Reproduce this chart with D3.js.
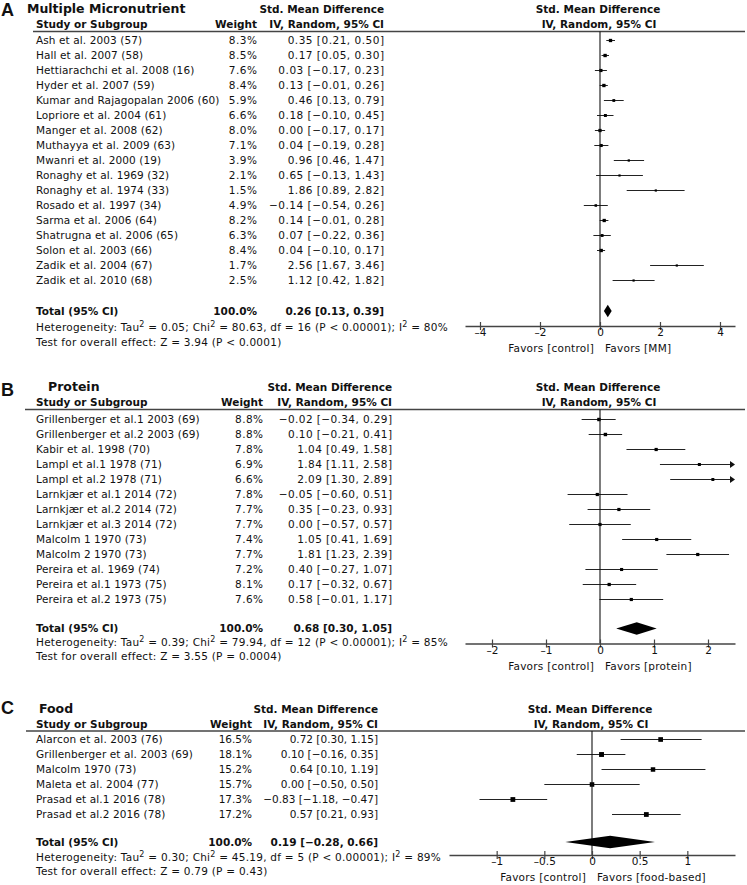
<!DOCTYPE html>
<html>
<head>
<meta charset="utf-8">
<script src="https://cdn.jsdelivr.net/npm/d3@7"></script>
<style>
  html, body { margin: 0; padding: 0; background: #fff; }
  svg { display: block; }
  text { font-family: "DejaVu Sans", Verdana, sans-serif; fill: #111; }
</style>
</head>
<body>
<svg id="chart" width="747" height="885"></svg>
<script>
// ---------- Panel A: Multiple Micronutrient ----------
const mmStudies = ["Ash et al. 2003 (57)", "Hall et al. 2007 (58)", "Hettiarachchi et al. 2008 (16)", "Hyder et al. 2007 (59)",
  "Kumar and Rajagopalan 2006 (60)", "Lopriore et al. 2004 (61)", "Manger et al. 2008 (62)", "Muthayya et al. 2009 (63)",
  "Mwanri et al. 2000 (19)", "Ronaghy et al. 1969 (32)", "Ronaghy et al. 1974 (33)", "Rosado et al. 1997 (34)",
  "Sarma et al. 2006 (64)", "Shatrugna et al. 2006 (65)", "Solon et al. 2003 (66)", "Zadik et al. 2004 (67)", "Zadik et al. 2010 (68)"];
const mmWeight = [8.3, 8.5, 7.6, 8.4, 5.9, 6.6, 8.0, 7.1, 3.9, 2.1, 1.5, 4.9, 8.2, 6.3, 8.4, 1.7, 2.5];
const mmSmd = [0.35, 0.17, 0.03, 0.13, 0.46, 0.18, 0.00, 0.04, 0.96, 0.65, 1.86, -0.14, 0.14, 0.07, 0.04, 2.56, 1.12];
const mmLow = [0.21, 0.05, -0.17, -0.01, 0.13, -0.10, -0.17, -0.19, 0.46, -0.13, 0.89, -0.54, -0.01, -0.22, -0.10, 1.67, 0.42];
const mmHigh = [0.50, 0.30, 0.23, 0.26, 0.79, 0.45, 0.17, 0.28, 1.47, 1.43, 2.82, 0.26, 0.28, 0.36, 0.17, 3.46, 1.82];
const mmTotal = [0.26, 0.13, 0.39];
const mmTicks = [-4, -2, 0, 2, 4];
const mmDomain = [-4.5, 4.5];

// ---------- Panel B: Protein ----------
const prStudies = ["Grillenberger et al.1 2003 (69)", "Grillenberger et al.2 2003 (69)", "Kabir et al. 1998 (70)",
  "Lampl et al.1 1978 (71)", "Lampl et al.2 1978 (71)", "Larnkjær et al.1 2014 (72)", "Larnkjær et al.2 2014 (72)",
  "Larnkjær et al.3 2014 (72)", "Malcolm 1 1970 (73)", "Malcolm 2 1970 (73)", "Pereira et al. 1969 (74)",
  "Pereira et al.1 1973 (75)", "Pereira et al.2 1973 (75)"];
const prWeight = [8.8, 8.8, 7.8, 6.9, 6.6, 7.8, 7.7, 7.7, 7.4, 7.7, 7.2, 8.1, 7.6];
const prSmd = [-0.02, 0.10, 1.04, 1.84, 2.09, -0.05, 0.35, 0.00, 1.05, 1.81, 0.40, 0.17, 0.58];
const prLow = [-0.34, -0.21, 0.49, 1.11, 1.30, -0.60, -0.23, -0.57, 0.41, 1.23, -0.27, -0.32, -0.01];
const prHigh = [0.29, 0.41, 1.58, 2.58, 2.89, 0.51, 0.93, 0.57, 1.69, 2.39, 1.07, 0.67, 1.17];
const prTotal = [0.68, 0.30, 1.05];
const prTicks = [-2, -1, 0, 1, 2];
const prDomain = [-2.5, 2.5];

// ---------- Panel C: Food ----------
const fdStudies = ["Alarcon et al. 2003 (76)", "Grillenberger et al. 2003 (69)", "Malcolm 1970 (73)",
  "Maleta et al. 2004 (77)", "Prasad et al.1 2016 (78)", "Prasad et al.2 2016 (78)"];
const fdWeight = [16.5, 18.1, 15.2, 15.7, 17.3, 17.2];
const fdSmd = [0.72, 0.10, 0.64, 0.00, -0.83, 0.57];
const fdLow = [0.30, -0.16, 0.10, -0.50, -1.18, 0.21];
const fdHigh = [1.15, 0.35, 1.19, 0.50, -0.47, 0.93];
const fdTotal = [0.19, -0.28, 0.66];
const fdTicks = [-1, -0.5, 0, 0.5, 1];
const fdDomain = [-1.5, 1.5];

const panels = [
  { letter: "A", title: "Multiple Micronutrient", studies: mmStudies, weight: mmWeight, smd: mmSmd, low: mmLow, high: mmHigh,
    total: mmTotal, ticks: mmTicks, domain: mmDomain,
    het: ["Heterogeneity: Tau", "² = 0.05; Chi", "² = 80.63, df = 16 (P < 0.00001); I", "² = 80%"],
    test: "Test for overall effect: Z = 3.94 (P < 0.0001)", favor: "Favors [MM]",
    L: { letterY: 16, titleX: 27, titleY: 12.5, headY: 28, ruleY: 31.5, ruleX: 33, row0: 40.5, step: 15, totalY: 311,
         hetY: 327, testY: 342, axisY: 326, range: [465, 735], wRight: 257, eRight: 384, ls: 0.5 } },
  { letter: "B", title: "Protein", studies: prStudies, weight: prWeight, smd: prSmd, low: prLow, high: prHigh,
    total: prTotal, ticks: prTicks, domain: prDomain,
    het: ["Heterogeneity: Tau", "² = 0.39; Chi", "² = 79.94, df = 12 (P < 0.00001); I", "² = 85%"],
    test: "Test for overall effect: Z = 3.55 (P = 0.0004)", favor: "Favors [protein]",
    L: { letterY: 396, titleX: 48, titleY: 391, headY: 406, ruleY: 409.5, ruleX: 25, row0: 419.5, step: 15, totalY: 628.5,
         hetY: 642, testY: 656, axisY: 643.5, range: [465, 735], wRight: 263, eRight: 392, ls: 0.4 } },
  { letter: "C", title: "Food", studies: fdStudies, weight: fdWeight, smd: fdSmd, low: fdLow, high: fdHigh,
    total: fdTotal, ticks: fdTicks, domain: fdDomain,
    het: ["Heterogeneity: Tau", "² = 0.30; Chi", "² = 45.19, df = 5 (P < 0.00001); I", "² = 89%"],
    test: "Test for overall effect: Z = 0.79 (P = 0.43)", favor: "Favors [food-based]",
    L: { letterY: 714, titleX: 39, titleY: 712.5, headY: 727.5, ruleY: 731, ruleX: 26, row0: 739.5, step: 15, totalY: 842,
         hetY: 857, testY: 871, axisY: 855, range: [449, 735], wRight: 252, eRight: 378, ls: 0 } }
];

const svg = d3.select("#chart");
const fmt2 = d3.format(".2f");
const minus = s => s.replace(/-/g, "\u2013");
const f2 = v => minus(fmt2(v));
const FS = 10.5;
const LS_TXT = "0.25px", LS_NAME = "0.1px";

panels.forEach(p => {
  const L = p.L;
  const g = svg.append("g");
  const x = d3.scaleLinear().domain(p.domain).range(L.range);
  const x0 = x(0);
  const rowY = i => L.row0 + i * L.step;
  const base = 3.8; // center -> baseline offset
  const lsNum = L.ls + "px";

  // panel letter
  g.append("text").attr("x", 1).attr("y", L.letterY).text(p.letter)
    .style("font-family", "'Liberation Sans', Arial, sans-serif").style("font-weight", "bold").style("font-size", "18px");
  // title
  g.append("text").attr("x", L.titleX).attr("y", L.titleY).text(p.title)
    .style("font-weight", "bold").style("font-size", "12.5px");
  // header left
  g.append("text").attr("x", 36).attr("y", L.headY).text("Study or Subgroup")
    .style("font-weight", "bold").style("font-size", FS + "px");
  g.append("text").attr("x", L.wRight).attr("y", L.headY).attr("text-anchor", "end").text("Weight")
    .style("font-weight", "bold").style("font-size", FS + "px");
  g.append("text").attr("x", L.eRight).attr("y", L.titleY).attr("text-anchor", "end").text("Std. Mean Difference")
    .style("font-weight", "bold").style("font-size", FS + "px");
  g.append("text").attr("x", L.eRight).attr("y", L.headY).attr("text-anchor", "end").text("IV, Random, 95% CI")
    .style("font-weight", "bold").style("font-size", FS + "px");
  // header right (plot)
  g.append("text").attr("x", x0 - 2).attr("y", L.titleY).attr("text-anchor", "middle").text("Std. Mean Difference")
    .style("font-weight", "bold").style("font-size", FS + "px");
  g.append("text").attr("x", x0 - 1).attr("y", L.headY).attr("text-anchor", "middle").text("IV, Random, 95% CI")
    .style("font-weight", "bold").style("font-size", FS + "px");
  // rule
  g.append("line").attr("x1", L.ruleX).attr("x2", 745).attr("y1", L.ruleY).attr("y2", L.ruleY)
    .attr("stroke", "#444").attr("stroke-width", 1.3);

  // rows
  const rows = g.selectAll("g.row").data(p.studies.map((s, i) => ({
    name: s, w: p.weight[i], m: p.smd[i], lo: p.low[i], hi: p.high[i], i
  }))).join("g").attr("class", "row");

  rows.append("text").attr("x", 36).attr("y", d => rowY(d.i) + base).text(d => d.name)
    .style("font-size", FS + "px").style("letter-spacing", LS_NAME);
  rows.append("text").attr("x", L.wRight + L.ls).attr("y", d => rowY(d.i) + base).attr("text-anchor", "end")
    .text(d => d.w.toFixed(1) + "%").style("font-size", FS + "px").style("letter-spacing", lsNum);
  rows.append("text").attr("x", L.eRight + L.ls).attr("y", d => rowY(d.i) + base).attr("text-anchor", "end")
    .text(d => `${f2(d.m)} [${f2(d.lo)}, ${f2(d.hi)}]`).style("font-size", FS + "px").style("letter-spacing", lsNum);

  // zero line
  g.append("line").attr("x1", x0).attr("x2", x0).attr("y1", L.ruleY).attr("y2", L.axisY)
    .attr("stroke", "#111").attr("stroke-width", 1.1);

  const dmin = p.domain[0], dmax = p.domain[1];
  // CI lines
  rows.append("line")
    .attr("x1", d => x(Math.max(d.lo, dmin))).attr("x2", d => x(Math.min(d.hi, dmax)) - (d.hi > dmax ? 3 : 0))
    .attr("y1", d => rowY(d.i)).attr("y2", d => rowY(d.i))
    .attr("stroke", "#222").attr("stroke-width", 1);
  // arrows for truncated CIs
  rows.filter(d => d.hi > dmax).append("path")
    .attr("d", d => { const xe = x(dmax), y = rowY(d.i); return `M${xe},${y} L${xe - 5},${y - 3.5} L${xe - 5},${y + 3.5} Z`; })
    .attr("fill", "#111");
  // squares
  const side = w => Math.max(2.2, 1.15 * Math.sqrt(w));
  rows.append("rect")
    .attr("width", d => side(d.w)).attr("height", d => side(d.w))
    .attr("x", d => x(d.m) - side(d.w) / 2)
    .attr("y", d => rowY(d.i) - side(d.w) / 2)
    .attr("fill", "#000");

  // total row
  g.append("text").attr("x", 36).attr("y", L.totalY + base).text("Total (95% CI)")
    .style("font-weight", "bold").style("font-size", FS + "px");
  g.append("text").attr("x", L.wRight).attr("y", L.totalY + base).attr("text-anchor", "end").text("100.0%")
    .style("font-weight", "bold").style("font-size", FS + "px");
  g.append("text").attr("x", L.eRight).attr("y", L.totalY + base).attr("text-anchor", "end")
    .text(`${f2(p.total[0])} [${f2(p.total[1])}, ${f2(p.total[2])}]`)
    .style("font-weight", "bold").style("font-size", FS + "px");
  const ty = L.totalY;
  g.append("path")
    .attr("d", `M${x(p.total[1])},${ty} L${x(p.total[0])},${ty - 6.3} L${x(p.total[2])},${ty} L${x(p.total[0])},${ty + 6.3} Z`)
    .attr("fill", "#000");

  // heterogeneity
  const het = g.append("text").attr("x", 36).attr("y", L.hetY + base)
    .style("font-size", FS + "px").style("letter-spacing", LS_TXT);
  p.het.forEach((part, k) => {
    if (k === 0) { het.append("tspan").text(part); return; }
    het.append("tspan").attr("dy", -4).style("font-size", "8px").text("2");
    het.append("tspan").attr("dy", 4).text(part.slice(1));
  });
  g.append("text").attr("x", 36).attr("y", L.testY + base).text(p.test)
    .style("font-size", FS + "px").style("letter-spacing", LS_TXT);

  // axis
  const axis = d3.axisBottom(x).tickValues(p.ticks).tickSizeInner(4).tickSizeOuter(0)
    .tickFormat(v => minus(String(v)));
  const ag = g.append("g").attr("transform", `translate(0,${L.axisY})`).call(axis);
  ag.select(".domain").attr("stroke", "#444").attr("stroke-width", 1.6);
  ag.selectAll(".tick line").attr("y1", -4).attr("y2", 4).attr("stroke", "#444").attr("stroke-width", 1.2);
  ag.selectAll(".tick text").attr("y", 3).attr("dy", "0.71em")
    .style("font-family", "'DejaVu Sans', Verdana, sans-serif").style("font-size", FS + "px").attr("fill", "#111");

  // favors
  g.append("text").attr("x", x0 - 6).attr("y", L.axisY + 26).attr("text-anchor", "end").text("Favors [control]")
    .style("font-size", FS + "px").style("letter-spacing", LS_TXT);
  g.append("text").attr("x", x0 + 5).attr("y", L.axisY + 26).text(p.favor)
    .style("font-size", FS + "px").style("letter-spacing", LS_TXT);
});
</script>
</body>
</html>
